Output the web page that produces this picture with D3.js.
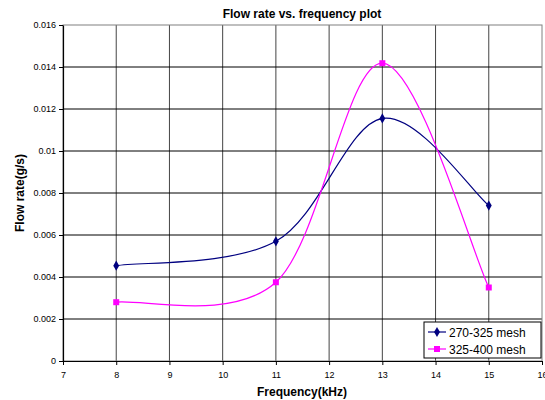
<!DOCTYPE html>
<html>
<head>
<meta charset="utf-8">
<script src="https://cdn.jsdelivr.net/npm/d3@7"></script>
<style>
  body { margin: 0; background: #fff; }
  text { font-family: "Liberation Sans", Arial, sans-serif; }
</style>
</head>
<body>
<div id="chart"></div>
<script>
// dados
const frequency = [8, 11, 13, 15];
const mesh270 = [0.00454, 0.0057, 0.01155, 0.0074];
const mesh325 = [0.0028, 0.00375, 0.01418, 0.0035];
const seriesNames = ["270-325 mesh", "325-400 mesh"];
const xTicks = [7, 8, 9, 10, 11, 12, 13, 14, 15, 16];
const yTicks = [0, 0.002, 0.004, 0.006, 0.008, 0.01, 0.012, 0.014, 0.016];

const width = 545, height = 400;
const margin = { left: 63, right: 3, top: 25, bottom: 39 };

const svg = d3.select("#chart")
    .append("svg")
    .attr("width", width)
    .attr("height", height);

const x = d3.scaleLinear().domain([7, 16]).range([margin.left, width - margin.right]);
const y = d3.scaleLinear().domain([0, 0.016]).range([height - margin.bottom, margin.top]);

// curva suavizada ao estilo do Excel (Bezier, tensão 1/6, limitada a meio segmento)
function curveExcel(context) {
    let pts = [];
    return {
        areaStart() {}, areaEnd() {},
        lineStart() { pts = []; },
        point(px, py) { pts.push([+px, +py]); },
        lineEnd() {
            const n = pts.length;
            if (!n) return;
            const dist = (a, b) => Math.hypot(b[0] - a[0], b[1] - a[1]);
            context.moveTo(pts[0][0], pts[0][1]);
            for (let i = 0; i < n - 1; i++) {
                const p0 = pts[Math.max(i - 1, 0)], p1 = pts[i], p2 = pts[i + 1], p3 = pts[Math.min(i + 2, n - 1)];
                const d12 = dist(p1, p2), d02 = dist(p0, p2), d13 = dist(p1, p3);
                let f1 = 1 / 6, f2 = 1 / 6;
                if (d02 / 6 >= d12 / 2) f1 = d12 / d02 / 2;
                if (d13 / 6 >= d12 / 2) f2 = d12 / d13 / 2;
                context.bezierCurveTo(
                    p1[0] + (p2[0] - p0[0]) * f1, p1[1] + (p2[1] - p0[1]) * f1,
                    p2[0] - (p3[0] - p1[0]) * f2, p2[1] - (p3[1] - p1[1]) * f2,
                    p2[0], p2[1]);
            }
        }
    };
}

// grelha
svg.append("g").selectAll("line")
    .data(xTicks.slice(1, -1))
    .enter().append("line")
    .attr("x1", d => x(d)).attr("x2", d => x(d))
    .attr("y1", y(0.016)).attr("y2", y(0))
    .attr("stroke", "#444").attr("stroke-width", 1);

svg.append("g").selectAll("line")
    .data(yTicks.slice(1, -1))
    .enter().append("line")
    .attr("x1", x(7)).attr("x2", x(16))
    .attr("y1", d => y(d)).attr("y2", d => y(d))
    .attr("stroke", "#000").attr("stroke-width", 1);

// contorno da área do gráfico
svg.append("rect")
    .attr("x", x(7)).attr("y", y(0.016))
    .attr("width", x(16) - x(7)).attr("height", y(0) - y(0.016))
    .attr("fill", "none").attr("stroke", "#808080").attr("stroke-width", 1);

// eixos
const xAxis = svg.append("g")
    .attr("transform", `translate(0,${y(0)})`)
    .call(d3.axisBottom(x).tickValues(xTicks).tickSize(4).tickSizeOuter(0).tickFormat(d3.format("d")));
const yAxis = svg.append("g")
    .attr("transform", `translate(${x(7)},0)`)
    .call(d3.axisLeft(y).tickValues(yTicks).tickSize(4).tickSizeOuter(0).tickFormat(d => d === 0 ? "0" : d3.format("~g")(d)));

[xAxis, yAxis].forEach(a => {
    a.select(".domain").attr("stroke", "#000").attr("stroke-width", 1.2);
    a.selectAll(".tick line").attr("stroke", "#000");
    a.selectAll(".tick text").attr("font-size", "9px").attr("fill", "#000")
        .attr("font-family", "Liberation Sans, Arial, sans-serif");
});
xAxis.selectAll(".tick text").attr("dy", "1.1em");

// títulos
svg.append("text")
    .attr("x", 302).attr("y", 18)
    .attr("text-anchor", "middle")
    .attr("font-size", "12px").attr("font-weight", "bold")
    .text("Flow rate vs. frequency plot");

svg.append("text")
    .attr("x", 302).attr("y", 396)
    .attr("text-anchor", "middle")
    .attr("font-size", "12px").attr("font-weight", "bold")
    .text("Frequency(kHz)");

svg.append("text")
    .attr("transform", `translate(24,${(y(0) + y(0.016)) / 2}) rotate(-90)`)
    .attr("text-anchor", "middle")
    .attr("font-size", "12px").attr("font-weight", "bold")
    .text("Flow rate(g/s)");

// linhas suavizadas
const series = [
    { name: seriesNames[0], values: mesh270, color: "#000080", marker: d3.symbolDiamond, size: 30 },
    { name: seriesNames[1], values: mesh325, color: "#ff00ff", marker: d3.symbolSquare, size: 36 }
];

const line = d3.line()
    .x(d => x(d[0]))
    .y(d => y(d[1]))
    .curve(curveExcel);

series.forEach(s => {
    const pts = frequency.map((f, i) => [f, s.values[i]]);
    svg.append("path")
        .datum(pts)
        .attr("d", line)
        .attr("fill", "none")
        .attr("stroke", s.color)
        .attr("stroke-width", 1.2);
    svg.append("g").selectAll("path")
        .data(pts)
        .enter().append("path")
        .attr("transform", d => `translate(${x(d[0])},${y(d[1])})`)
        .attr("d", d3.symbol().type(s.marker).size(s.size))
        .attr("fill", s.color);
});

// legenda
const legend = svg.append("g").attr("transform", "translate(424,322)");
legend.append("rect")
    .attr("width", 117).attr("height", 36)
    .attr("fill", "#fff").attr("stroke", "#000").attr("stroke-width", 1);

series.forEach((s, i) => {
    const ly = 10 + i * 17;
    legend.append("line")
        .attr("x1", 4).attr("x2", 22)
        .attr("y1", ly).attr("y2", ly)
        .attr("stroke", s.color).attr("stroke-width", 1.2);
    legend.append("path")
        .attr("transform", `translate(13,${ly})`)
        .attr("d", d3.symbol().type(s.marker).size(s.size))
        .attr("fill", s.color);
    legend.append("text")
        .attr("x", 25).attr("y", ly + 4.5)
        .attr("font-size", "12px")
        .text(s.name);
});
</script>
</body>
</html>
